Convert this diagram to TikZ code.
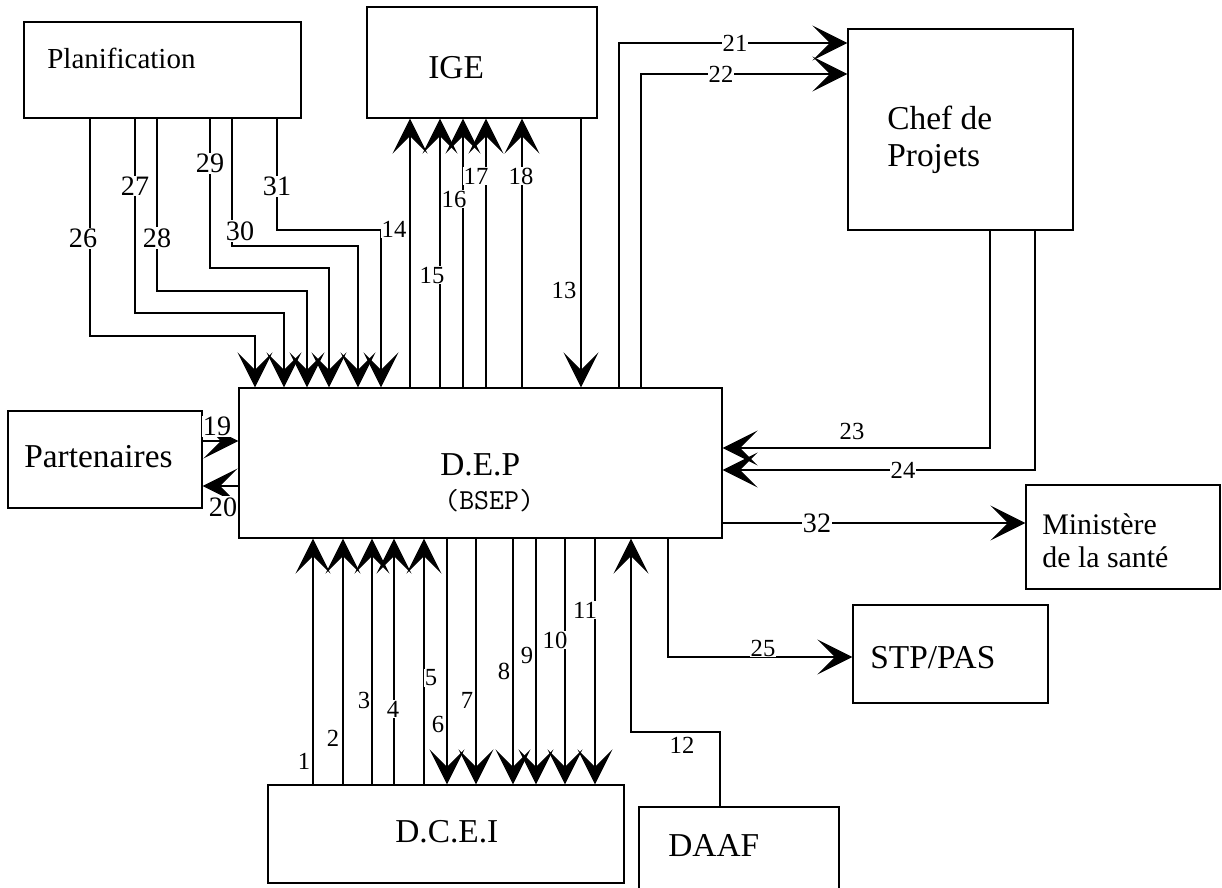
\documentclass[tikz,border=0pt]{standalone}
\usepackage{fontspec}
\setmainfont{Liberation Serif}
\usetikzlibrary{arrows.meta, fit}

\begin{document}
\begin{tikzpicture}[x=0.02cm, y=-0.02cm, >={Stealth[length=7mm, width=7mm, inset=3.5mm]},
    box/.style={draw, rectangle, inner sep=0pt, line width=0.7pt},
    boxtext/.style={inner sep=0pt, align=left, font=\fontsize{19}{22}\selectfont},
    flow/.style={->, line width=0.6pt},
    nlabel/.style={fill=white, inner sep=0.6pt, font=\fontsize{14}{16}\selectfont},
    biglabel/.style={nlabel, font=\fontsize{16}{18}\selectfont}]
    \useasboundingbox (0,0) rectangle (1222,887);

    % boxes
    \node[box, fit={(24,22) (301,118)}] (plan) {};
    \node[box, fit={(367,7) (597,118)}] (ige) {};
    \node[box, fit={(848,29) (1073,230)}] (chef) {};
    \node[box, fit={(8,411) (202,508)}] (part) {};
    \node[box, fit={(239,388) (722,538)}] (dep) {};
    \node[box, fit={(1026,485) (1220,589)}] (minist) {};
    \node[box, fit={(853,605) (1048,703)}] (stp) {};
    \node[box, fit={(268,785) (624,883)}] (dcei) {};
    \node[box, fit={(639,807) (839,910)}] (daaf) {};

    \node[boxtext, anchor=base west, font=\fontsize{16.5}{19}\selectfont] (plan-t) at (47,68) {Planification};
    \node[boxtext, anchor=base west] (ige-t) at (428,78) {IGE};
    \node[boxtext, anchor=west, font=\fontsize{19}{21}\selectfont] (chef-t) at (887,140) {Chef de\\Projets};
    \node[boxtext, anchor=base west] (part-t) at (24,467) {Partenaires};
    \node[boxtext, anchor=base west] (dep-t) at (440,475) {D.E.P};
    \node[boxtext, anchor=base west, font=\fontsize{16.5}{19}\ttfamily] (dep-s) at (444,509) {(BSEP)};
    \node[boxtext, anchor=west, font=\fontsize{17}{19}\selectfont] (minist-t) at (1042,541) {Ministère\\de la santé};
    \node[boxtext, anchor=base west] (stp-t) at (870,668) {STP/PAS};
    \node[boxtext, anchor=base west] (dcei-t) at (395,842) {D.C.E.I};
    \node[boxtext, anchor=base west] (daaf-t) at (668,856) {DAAF};

    % Planification -> D.E.P
    \draw[flow] (90,0 |- plan.south) |- (255,336) -- (255,0 |- dep.north);
    \draw[flow] (135,0 |- plan.south) |- (284,313) -- (284,0 |- dep.north);
    \draw[flow] (157,0 |- plan.south) |- (307,291) -- (307,0 |- dep.north);
    \draw[flow] (210,0 |- plan.south) |- (329,268) -- (329,0 |- dep.north);
    \draw[flow] (232,0 |- plan.south) |- (358,246) -- (358,0 |- dep.north);
    \draw[flow] (277,0 |- plan.south) |- (381,230) -- (381,0 |- dep.north);

    % D.E.P <-> IGE
    \draw[flow] (410,0 |- dep.north) -- (410,0 |- ige.south);
    \draw[flow] (440,0 |- dep.north) -- (440,0 |- ige.south);
    \draw[flow] (463,0 |- dep.north) -- (463,0 |- ige.south);
    \draw[flow] (486,0 |- dep.north) -- (486,0 |- ige.south);
    \draw[flow] (522,0 |- dep.north) -- (522,0 |- ige.south);
    \draw[flow] (581,0 |- ige.south) -- (581,0 |- dep.north);

    % D.E.P <-> Chef de Projets
    \draw[flow] (619,0 |- dep.north) |- (0,43 -| chef.west);
    \draw[flow] (641,0 |- dep.north) |- (0,74 -| chef.west);
    \draw[flow] (990,0 |- chef.south) |- (0,448 -| dep.east);
    \draw[flow] (1035,0 |- chef.south) |- (0,470 -| dep.east);

    % Partenaires
    \draw[flow] (0,441 -| part.east) -- (0,441 -| dep.west);
    \draw[flow] (0,486 -| dep.west) -- (0,486 -| part.east);

    % Ministere, STP/PAS, DAAF
    \draw[flow] (0,523 -| dep.east) -- (0,523 -| minist.west);
    \draw[flow] (668,0 |- dep.south) |- (0,657 -| stp.west);
    \draw[flow] (720,0 |- daaf.north) |- (631,732) -- (631,0 |- dep.south);

    % D.C.E.I <-> D.E.P
    \draw[flow] (313,0 |- dcei.north) -- (313,0 |- dep.south);
    \draw[flow] (343,0 |- dcei.north) -- (343,0 |- dep.south);
    \draw[flow] (372,0 |- dcei.north) -- (372,0 |- dep.south);
    \draw[flow] (394,0 |- dcei.north) -- (394,0 |- dep.south);
    \draw[flow] (424,0 |- dcei.north) -- (424,0 |- dep.south);
    \draw[flow] (447,0 |- dep.south) -- (447,0 |- dcei.north);
    \draw[flow] (476,0 |- dep.south) -- (476,0 |- dcei.north);
    \draw[flow] (513,0 |- dep.south) -- (513,0 |- dcei.north);
    \draw[flow] (536,0 |- dep.south) -- (536,0 |- dcei.north);
    \draw[flow] (565,0 |- dep.south) -- (565,0 |- dcei.north);
    \draw[flow] (595,0 |- dep.south) -- (595,0 |- dcei.north);

    % numbers
    \node[nlabel] (n1) at (304,761) {1};
    \node[nlabel] (n2) at (333,738) {2};
    \node[nlabel] (n3) at (364,700) {3};
    \node[nlabel] (n4) at (393,709) {4};
    \node[nlabel] (n5) at (431,678) {5};
    \node[nlabel] (n6) at (438,724) {6};
    \node[nlabel] (n7) at (467,700) {7};
    \node[nlabel] (n8) at (504,671) {8};
    \node[nlabel] (n9) at (527,655) {9};
    \node[nlabel] (n10) at (555,640) {10};
    \node[nlabel] (n11) at (585,610) {11};
    \node[nlabel] (n12) at (682,745) {12};
    \node[nlabel] (n13) at (564,290) {13};
    \node[nlabel] (n14) at (394,229) {14};
    \node[nlabel] (n15) at (432,275) {15};
    \node[nlabel] (n16) at (454,199) {16};
    \node[nlabel] (n17) at (476,176) {17};
    \node[nlabel] (n18) at (521,176) {18};
    \node[biglabel] (n19) at (217,426) {19};
    \node[biglabel] (n20) at (223,507) {20};
    \node[nlabel] (n21) at (735,43) {21};
    \node[nlabel] (n22) at (721,74) {22};
    \node[nlabel] (n23) at (852,431) {23};
    \node[nlabel] (n24) at (903,470) {24};
    \node[nlabel] (n25) at (763,648) {25};
    \node[biglabel] (n26) at (83,238) {26};
    \node[biglabel] (n27) at (135,186) {27};
    \node[biglabel] (n28) at (157,238) {28};
    \node[biglabel] (n29) at (210,163) {29};
    \node[biglabel] (n30) at (240,231) {30};
    \node[biglabel] (n31) at (277,186) {31};
    \node[biglabel] (n32) at (817,523) {32};
\end{tikzpicture}
\end{document}
